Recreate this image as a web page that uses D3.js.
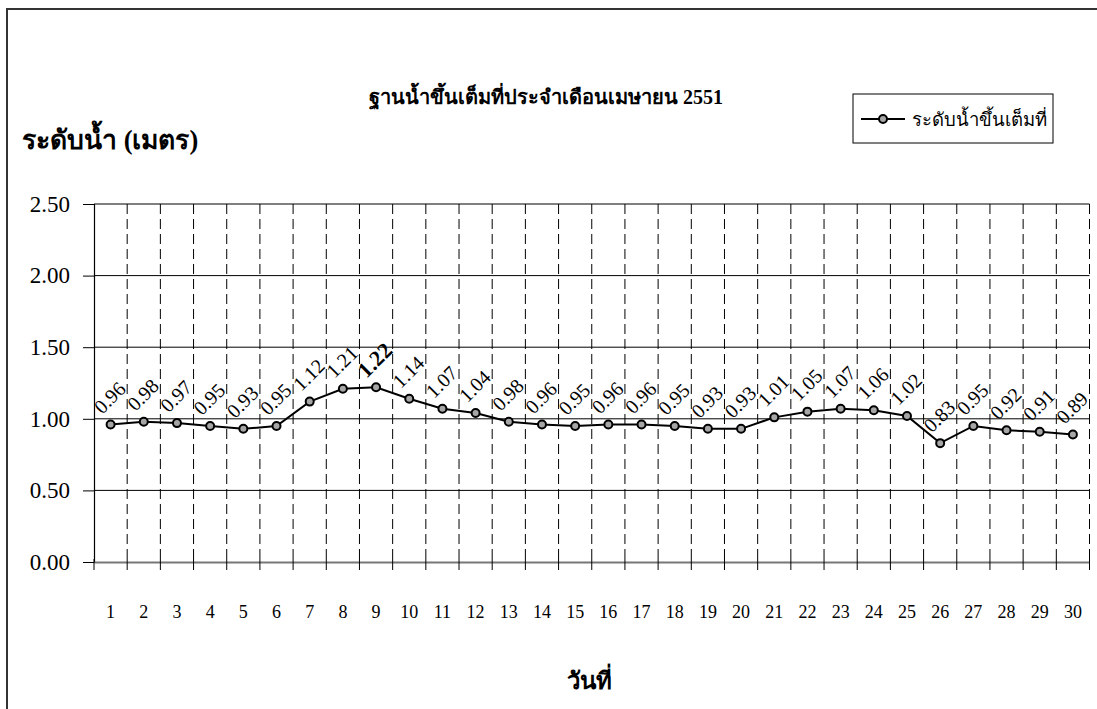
<!DOCTYPE html>
<html lang="th">
<head>
<meta charset="UTF-8">
<title>ฐานน้ำขึ้นเต็มที่ประจำเดือนเมษายน 2551</title>
<script src="https://d3js.org/d3.v7.min.js"></script>
<style>
  body { margin: 0; background: #fff; }
  text { font-family: "Liberation Serif", "Times New Roman", serif; fill: #000; }
</style>
</head>
<body>
<svg id="chart" width="1097" height="709"></svg>
<script>
  // data
  var days = d3.range(1, 31).map(String);
  var levels = [0.96, 0.98, 0.97, 0.95, 0.93, 0.95, 1.12, 1.21, 1.22, 1.14,
                1.07, 1.04, 0.98, 0.96, 0.95, 0.96, 0.96, 0.95, 0.93, 0.93,
                1.01, 1.05, 1.07, 1.06, 1.02, 0.83, 0.95, 0.92, 0.91, 0.89];
  var yTicks = [0, 0.5, 1, 1.5, 2, 2.5];
  var peakDay = "9";   // bold label

  var title = "ฐานน้ำขึ้นเต็มที่ประจำเดือนเมษายน 2551",
      yTitle = "ระดับน้ำ (เมตร)",
      xTitle = "วันที่",
      seriesName = "ระดับน้ำขึ้นเต็มที่";

  var svg = d3.select("#chart"),
      plotL = 94, plotR = 1089.5, plotT = 204, plotB = 562;

  var x = d3.scaleBand().domain(days).range([plotL, plotR]).padding(0),
      y = d3.scaleLinear().domain([0, 2.5]).range([plotB, plotT]);

  // outer chart border
  svg.append("rect")
     .attr("x", 7).attr("y", 9).attr("width", 1110).attr("height", 720)
     .attr("fill", "none").attr("stroke", "#333").attr("stroke-width", 2);

  // horizontal gridlines
  svg.append("g").selectAll("line").data(yTicks.slice(1)).join("line")
     .attr("x1", plotL).attr("x2", plotR)
     .attr("y1", d => y(d)).attr("y2", d => y(d))
     .attr("stroke", "#000").attr("stroke-width", 1);

  // dashed vertical gridlines at category boundaries
  var bounds = days.slice(1).map(d => x(d)).concat([plotR]);
  svg.append("g").selectAll("line").data(bounds).join("line")
     .attr("x1", d => d).attr("x2", d => d)
     .attr("y1", plotT).attr("y2", plotB)
     .attr("stroke", "#000").attr("stroke-width", 1)
     .attr("stroke-dasharray", "10,5");

  // y axis
  var yAxis = svg.append("g")
     .attr("transform", "translate(" + plotL + ",0)")
     .call(d3.axisLeft(y).tickValues(yTicks).tickSize(11).tickPadding(13)
           .tickFormat(d3.format(".2f")));
  yAxis.select(".domain").attr("stroke", "#000").attr("stroke-width", 1.2);
  yAxis.selectAll(".tick line").attr("stroke", "#000");
  yAxis.selectAll("text").style("font-size", "23px")
       .style("font-family", "'Liberation Serif', serif");

  // x axis: labels centred in bands, ticks at boundaries
  var xAxis = svg.append("g")
     .attr("transform", "translate(0," + plotB + ")")
     .call(d3.axisBottom(x).tickSize(0).tickPadding(43));
  xAxis.select(".domain").attr("stroke", "#777").attr("stroke-width", 2);
  xAxis.selectAll("text").style("font-size", "18px")
       .style("font-family", "'Liberation Serif', serif");
  svg.append("g").selectAll("line").data([plotL].concat(bounds)).join("line")
     .attr("x1", d => d).attr("x2", d => d)
     .attr("y1", plotB - 3).attr("y2", plotB + 8)
     .attr("stroke", "#000").attr("stroke-width", 1);

  // series line
  var cx = d => x(d) + x.bandwidth() / 2;
  svg.append("path")
     .datum(levels)
     .attr("fill", "none").attr("stroke", "#000").attr("stroke-width", 2)
     .attr("d", d3.line().x((d, i) => cx(days[i])).y(d => y(d)));

  svg.append("g").selectAll("circle").data(levels).join("circle")
     .attr("cx", (d, i) => cx(days[i])).attr("cy", d => y(d)).attr("r", 4)
     .attr("fill", "#a6a6a6").attr("stroke", "#000").attr("stroke-width", 2);

  // rotated value labels
  svg.append("g").selectAll("text").data(levels).join("text")
     .attr("transform", (d, i) => "translate(" + (cx(days[i]) + 4) + "," + (y(d) - 22) + ") rotate(-45)")
     .attr("text-anchor", "middle")
     .style("font-size", (d, i) => days[i] === peakDay ? "22px" : "20px")
     .style("font-weight", (d, i) => days[i] === peakDay ? "bold" : "normal")
     .text(d => d3.format(".2f")(d));

  // titles
  svg.append("text").attr("x", 546).attr("y", 104)
     .attr("text-anchor", "middle")
     .style("font-size", "20px").style("font-weight", "bold")
     .text(title);
  svg.append("text").attr("x", 22).attr("y", 149)
     .style("font-size", "26.5px").style("font-weight", "bold")
     .text(yTitle);
  svg.append("text").attr("x", 589).attr("y", 689)
     .attr("text-anchor", "middle")
     .style("font-size", "24px").style("font-weight", "bold")
     .text(xTitle);

  // legend
  var lg = svg.append("g");
  lg.append("rect").attr("x", 853).attr("y", 94).attr("width", 200).attr("height", 49)
    .attr("fill", "#fff").attr("stroke", "#000").attr("stroke-width", 1);
  lg.append("line").attr("x1", 861).attr("x2", 905).attr("y1", 119).attr("y2", 119)
    .attr("stroke", "#000").attr("stroke-width", 2);
  lg.append("circle").attr("cx", 883).attr("cy", 119).attr("r", 4)
    .attr("fill", "#a6a6a6").attr("stroke", "#000").attr("stroke-width", 2);
  lg.append("text").attr("x", 912).attr("y", 126)
    .style("font-size", "18.5px").text(seriesName);
</script>
</body>
</html>
